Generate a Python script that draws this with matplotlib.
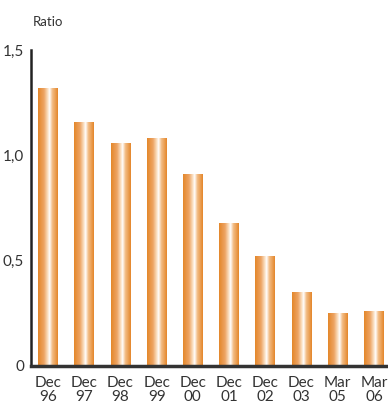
import numpy as np
import matplotlib.pyplot as plt
from matplotlib.colors import LinearSegmentedColormap

labels = ["Dec\n96", "Dec\n97", "Dec\n98", "Dec\n99", "Dec\n00",
          "Dec\n01", "Dec\n02", "Dec\n03", "Mar\n05", "Mar\n06"]
ratio = [1.32, 1.16, 1.06, 1.08, 0.91, 0.68, 0.52, 0.35, 0.25, 0.26]
yticks = [0, 0.5, 1.0, 1.5]
ylabels = ["0", "0,5", "1,0", "1,5"]

plt.rcParams['font.family'] = ['Lato', 'DejaVu Sans']

fig = plt.figure(figsize=(3.88, 4.03), dpi=100)
ax = fig.add_axes([0.08, 0.092, 0.92, 0.784])

# orange -> white -> orange, like a lit cylinder
cmap = LinearSegmentedColormap.from_list(
    "bar", [(0.0, "#e4872a"), (0.3, "#eda463"), (0.5, "#fbe3c8"),
            (0.58, "#ffffff"), (0.72, "#f3bd86"), (1.0, "#e4862a")])
grad = np.linspace(0, 1, 256).reshape(1, -1)

x = np.arange(len(ratio))
bars = ax.bar(x, ratio, width=0.55, color="none", edgecolor="none")
for b in bars:
    x0, w, h = b.get_x(), b.get_width(), b.get_height()
    im = ax.imshow(grad, cmap=cmap, aspect="auto",
                   extent=[x0, x0 + w, 0, h], zorder=2)
    im.set_clip_path(b)

ax.set_xlim(-0.47, len(ratio) - 0.61)
ax.set_ylim(0, 1.5)
ax.set_xticks(x)
ax.set_xticklabels(labels, fontsize=11, color="#333333", linespacing=1.05)
ax.set_yticks(yticks)
ax.set_yticklabels(ylabels, fontsize=11, color="#333333")
ax.tick_params(axis="x", length=0, pad=7)
ax.tick_params(axis="y", length=0, pad=5)

for s in ["top", "right"]:
    ax.spines[s].set_visible(False)
ax.spines["left"].set_linewidth(1.8)
ax.spines["left"].set_color("#222222")
ax.spines["bottom"].set_linewidth(2.5)
ax.spines["bottom"].set_color("#333333")

fig.text(0.085, 0.945, "Ratio", fontsize=9.5, color="#333333", va="center")

fig.savefig("out.png", dpi=100)
